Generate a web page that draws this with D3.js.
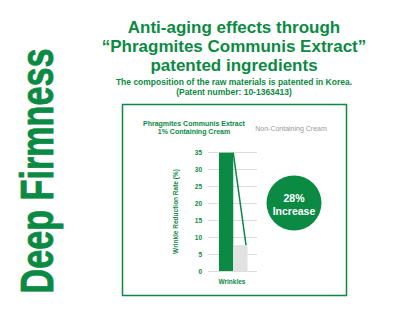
<!DOCTYPE html>
<html>
<head>
<meta charset="utf-8">
<script src="https://cdn.jsdelivr.net/npm/d3@7"></script>
<style>
  body { margin: 0; background: #fff; }
  text { font-family: "Liberation Sans", Arial, Helvetica, sans-serif; }
</style>
</head>
<body>
<svg id="chart" width="416" height="312"></svg>
<script>
const green = '#0b8a43';
const grey = '#e2e2e2';

const titleLines = ['Anti-aging effects through', '\u201cPhragmites Communis Extract\u201d', 'patented ingredients'];
const subLines = ['The composition of the raw materials is patented in Korea.', '(Patent number: 10-1363413)'];
const series = ['Phragmites Communis Extract 1% Containing Cream', 'Non-Containing Cream'];
const values = [34.8, 7.6];
const yTicks = [0, 5, 10, 15, 20, 25, 30, 35];
const category = 'Wrinkles';
const badge = ['28%', 'Increase'];

const svg = d3.select('#chart');

// side title
svg.append('text')
    .attr('transform', 'translate(52.5,293.5) rotate(-90)')
    .attr('font-size', 47)
    .attr('font-weight', 'bold')
    .attr('fill', green)
    .attr('stroke', green)
    .attr('stroke-width', 0.8)
    .attr('textLength', 245)
    .attr('lengthAdjust', 'spacingAndGlyphs')
    .text('Deep Firmness');

// headline
svg.selectAll('.title')
    .data(titleLines)
    .join('text')
    .attr('class', 'title')
    .attr('x', 234)
    .attr('y', (d, i) => 33 + i * 19)
    .attr('text-anchor', 'middle')
    .attr('font-size', 17)
    .attr('font-weight', 'bold')
    .attr('fill', green)
    .text(d => d);

svg.selectAll('.sub')
    .data(subLines)
    .join('text')
    .attr('class', 'sub')
    .attr('x', 234)
    .attr('y', (d, i) => 85 + i * 10)
    .attr('text-anchor', 'middle')
    .attr('font-size', 8.5)
    .attr('font-weight', 'bold')
    .attr('fill', green)
    .text(d => d);

// frame
svg.append('rect')
    .attr('x', 122.5).attr('y', 104.5)
    .attr('width', 224).attr('height', 191)
    .attr('fill', 'none')
    .attr('stroke', green)
    .attr('stroke-width', 1.5);

// legend
const leg1 = svg.append('text')
    .attr('text-anchor', 'middle')
    .attr('font-size', 7)
    .attr('font-weight', 'bold')
    .attr('fill', green);
leg1.append('tspan').attr('x', 194).attr('y', 126).text('Phragmites Communis Extract');
leg1.append('tspan').attr('x', 194).attr('y', 134).text('1% Containing Cream');

svg.append('text')
    .attr('x', 291).attr('y', 131)
    .attr('text-anchor', 'middle')
    .attr('font-size', 7)
    .attr('fill', '#999')
    .text(series[1]);

// chart
const y = d3.scaleLinear().domain([0, 35]).range([271, 152]);
const x = d3.scaleBand().domain(series).range([219, 247.5]).padding(0);

const g = svg.append('g');

const axis = g.append('g')
    .attr('transform', 'translate(208,0)')
    .call(d3.axisLeft(y).tickValues(yTicks).tickSize(-49).tickPadding(6));
axis.select('.domain').remove();
axis.selectAll('.tick line').attr('stroke', '#dcdcdc').attr('stroke-width', 1);
axis.selectAll('.tick text')
    .attr('fill', green)
    .attr('font-size', 6.5)
    .attr('font-weight', 'bold')
    .attr('font-family', '"Liberation Sans", Arial, sans-serif');

g.selectAll('.bar')
    .data(series)
    .join('rect')
    .attr('class', 'bar')
    .attr('x', d => x(d))
    .attr('width', x.bandwidth())
    .attr('y', (d, i) => y(values[i]))
    .attr('height', (d, i) => y(0) - y(values[i]))
    .attr('fill', (d, i) => i === 0 ? green : grey);

// connector line
g.append('line')
    .attr('x1', x(series[0]) + x.bandwidth())
    .attr('y1', y(values[0]))
    .attr('x2', x(series[1]) + x.bandwidth() - 1.5)
    .attr('y2', y(values[1]))
    .attr('stroke', green)
    .attr('stroke-width', 1.5);

g.append('text')
    .attr('transform', `translate(178,${(y(0) + y(35)) / 2}) rotate(-90)`)
    .attr('text-anchor', 'middle')
    .attr('font-size', 6.5)
    .attr('font-weight', 'bold')
    .attr('fill', green)
    .text('Wrinkle Reduction Rate (%)');

g.append('text')
    .attr('x', 232).attr('y', 284)
    .attr('text-anchor', 'middle')
    .attr('font-size', 6.5)
    .attr('font-weight', 'bold')
    .attr('fill', green)
    .text(category);

// badge
svg.append('circle')
    .attr('cx', 294).attr('cy', 203).attr('r', 27.5)
    .attr('fill', green);
svg.selectAll('.badge')
    .data(badge)
    .join('text')
    .attr('class', 'badge')
    .attr('x', 294)
    .attr('y', (d, i) => 202 + i * 13)
    .attr('text-anchor', 'middle')
    .attr('font-size', 10.5)
    .attr('font-weight', 'bold')
    .attr('fill', '#fff')
    .text(d => d);
</script>
</body>
</html>
